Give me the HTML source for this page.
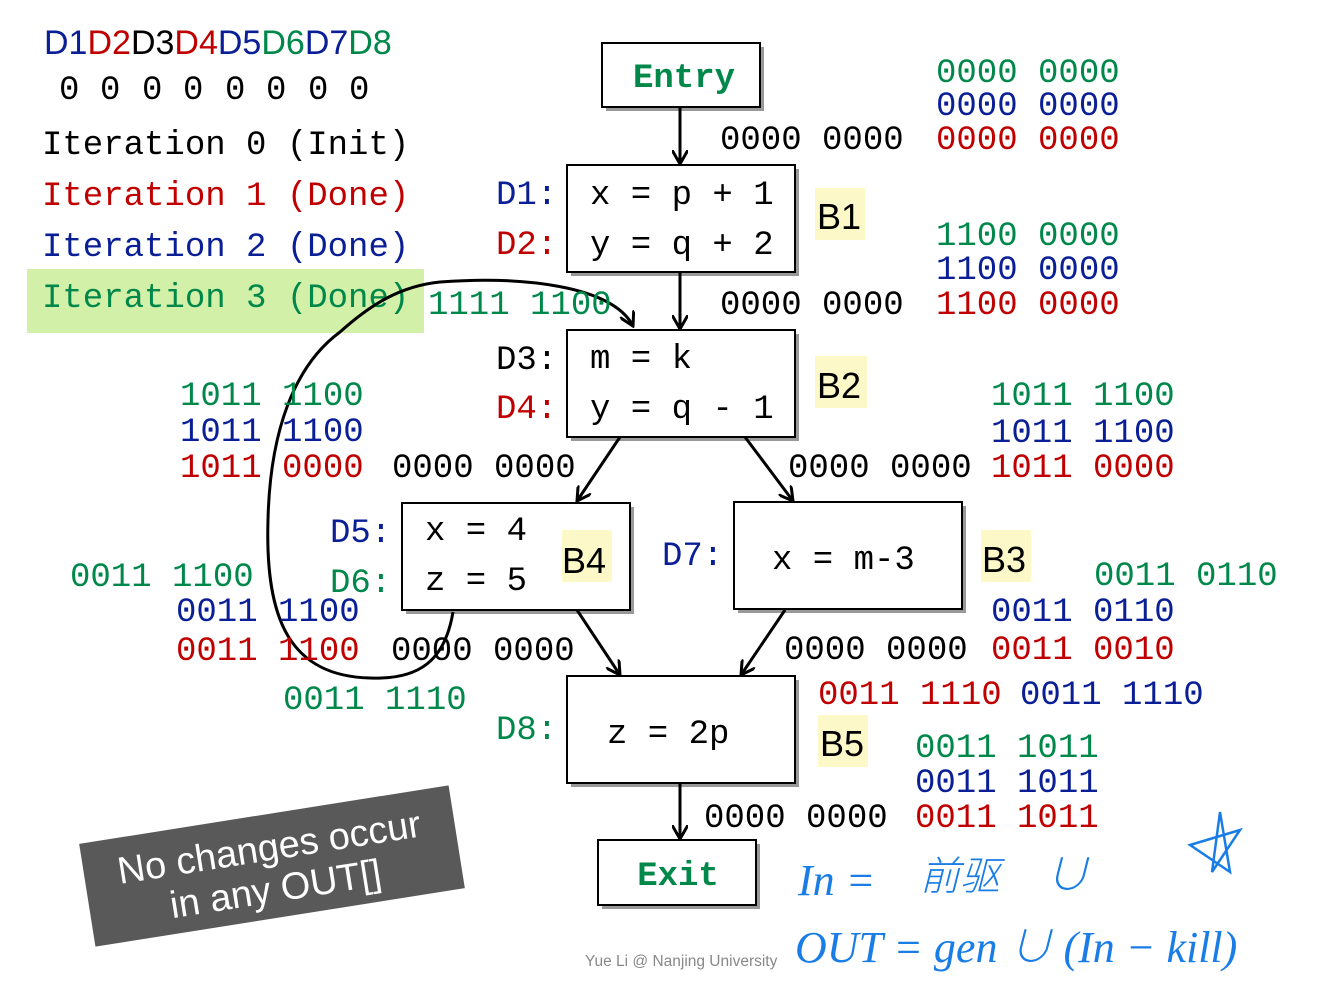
<!DOCTYPE html>
<html><head><meta charset="utf-8"><style>
html,body{margin:0;padding:0;background:#fff;}
svg{display:block;}
.m{font-family:"Liberation Mono",monospace;font-size:34px;}
.s{font-family:"Liberation Sans",sans-serif;}
.g{fill:#00884a}.b{fill:#0a1e96}.r{fill:#c00000}.k{fill:#000}
</style></head><body>
<svg width="1334" height="1000" viewBox="0 0 1334 1000" xmlns="http://www.w3.org/2000/svg">
<defs>
<marker id="a2" markerWidth="16" markerHeight="16" refX="14" refY="8" orient="auto" markerUnits="userSpaceOnUse"><path d="M0,0 L14,8 L0,16" fill="none" stroke="#000" stroke-width="3"/></marker></defs>

<text x="44" y="54" class="s" font-size="34"><tspan class="b">D1</tspan><tspan class="r">D2</tspan><tspan class="k">D3</tspan><tspan class="r">D4</tspan><tspan class="b">D5</tspan><tspan class="g">D6</tspan><tspan class="b">D7</tspan><tspan class="g">D8</tspan></text>
<g class="m k"><text x="59" y="99">0</text><text x="100" y="99">0</text><text x="142" y="99">0</text><text x="183" y="99">0</text><text x="225" y="99">0</text><text x="266" y="99">0</text><text x="308" y="99">0</text><text x="349" y="99">0</text></g>
<rect x="27" y="269" width="397" height="64" fill="#d3f0a8"/>
<text x="42" y="154" class="m k">Iteration 0 (Init)</text>
<text x="42" y="205" class="m r">Iteration 1 (Done)</text>
<text x="42" y="256" class="m b">Iteration 2 (Done)</text>
<text x="42" y="307" class="m g">Iteration 3 (Done)</text>

<g fill="#999"><rect x="606" y="47" width="158" height="64"/><rect x="571" y="169" width="228" height="107"/><rect x="571" y="334" width="228" height="107"/><rect x="406" y="507" width="228" height="107"/><rect x="738" y="506" width="228" height="107"/><rect x="571" y="680" width="228" height="107"/><rect x="602" y="844" width="158" height="65"/></g>
<g fill="#fff" stroke="#000" stroke-width="2"><rect x="602" y="43" width="158" height="64"/><rect x="567" y="165" width="228" height="107"/><rect x="567" y="330" width="228" height="107"/><rect x="402" y="503" width="228" height="107"/><rect x="734" y="502" width="228" height="107"/><rect x="567" y="676" width="228" height="107"/><rect x="598" y="840" width="158" height="65"/></g>
<text x="684" y="87" text-anchor="middle" class="m g" font-weight="bold">Entry</text>
<text x="678" y="885" text-anchor="middle" class="m g" font-weight="bold">Exit</text>

<g class="m k"><text x="590" y="204">x = p + 1</text><text x="590" y="254">y = q + 2</text>
<text x="590" y="368">m = k</text><text x="590" y="418">y = q - 1</text>
<text x="425" y="540">x = 4</text><text x="425" y="590">z = 5</text>
<text x="772" y="569">x = m-3</text><text x="607" y="743">z = 2p</text></g>
<g class="m"><text x="496" y="204" class="b">D1:</text><text x="496" y="254" class="r">D2:</text><text x="496" y="369" class="k">D3:</text><text x="496" y="418" class="r">D4:</text>
<text x="330" y="542" class="b">D5:</text><text x="330" y="592" class="g">D6:</text><text x="662" y="565" class="b">D7:</text><text x="496" y="739" class="g">D8:</text></g>

<g fill="#fdf8c8"><rect x="815" y="188" width="50" height="52"/><rect x="815" y="356" width="52" height="52"/><rect x="562" y="530" width="50" height="52"/><rect x="981" y="530" width="50" height="52"/><rect x="818" y="715" width="50" height="52"/></g>
<g class="s k" font-size="36"><text x="817" y="229">B1</text><text x="817" y="398">B2</text><text x="562" y="573">B4</text><text x="982" y="572">B3</text><text x="820" y="756">B5</text></g>

<g stroke="#000" stroke-width="3" fill="none" marker-end="url(#a2)">
<line x1="680" y1="107" x2="680" y2="164"/><line x1="680" y1="272" x2="680" y2="329"/>
<line x1="620" y1="437" x2="577" y2="501"/><line x1="745" y1="437" x2="793" y2="501"/>
<line x1="577" y1="610" x2="620" y2="675"/><line x1="785" y1="610" x2="741" y2="675"/>
<line x1="680" y1="783" x2="680" y2="839"/>
<path d="M453,612 C445,660 420,680 370,678 C290,676 265,620 268,520 C270,430 295,365 340,332 C370,305 400,286 440,282 C520,276 612,285 633,326"/>
</g>

<g class="m">
<text x="936" y="82" class="g">0000 0000</text><text x="936" y="115" class="b">0000 0000</text><text x="936" y="149" class="r">0000 0000</text><text x="720" y="149" class="k">0000 0000</text>
<text x="936" y="245" class="g">1100 0000</text><text x="936" y="279" class="b">1100 0000</text><text x="936" y="314" class="r">1100 0000</text><text x="720" y="314" class="k">0000 0000</text>
<text x="428" y="314" class="g">1111 1100</text>
<text x="180" y="405" class="g">1011 1100</text><text x="180" y="441" class="b">1011 1100</text><text x="180" y="477" class="r">1011 0000</text><text x="392" y="477" class="k">0000 0000</text>
<text x="991" y="405" class="g">1011 1100</text><text x="991" y="442" class="b">1011 1100</text><text x="991" y="477" class="r">1011 0000</text><text x="788" y="477" class="k">0000 0000</text>
<text x="70" y="586" class="g">0011 1100</text><text x="176" y="621" class="b">0011 1100</text><text x="176" y="660" class="r">0011 1100</text><text x="391" y="660" class="k">0000 0000</text>
<text x="1094" y="585" class="g">0011 0110</text><text x="991" y="621" class="b">0011 0110</text><text x="991" y="659" class="r">0011 0010</text><text x="784" y="659" class="k">0000 0000</text>
<text x="283" y="709" class="g">0011 1110</text>
<text x="818" y="704" class="r">0011 1110</text><text x="1020" y="704" class="b">0011 1110</text>
<text x="915" y="757" class="g">0011 1011</text><text x="915" y="792" class="b">0011 1011</text><text x="915" y="827" class="r">0011 1011</text><text x="704" y="827" class="k">0000 0000</text>
</g>

<g transform="translate(272,866) rotate(-9)">
<rect x="-187" y="-52" width="374" height="104" fill="#595959"/>
<text x="0" y="-6" text-anchor="middle" class="s" font-size="38" fill="#fff">No changes occur</text>
<text x="0" y="36" text-anchor="middle" class="s" font-size="38" fill="#fff">in any OUT[]</text>
</g>

<text x="585" y="966" class="s" font-size="15.5" fill="#888">Yue Li @ Nanjing University</text>

<g fill="#1a7de6" font-family="Liberation Serif, 'Noto Sans CJK SC', serif" font-style="italic" font-size="44" font-weight="300">
<text x="798" y="895">In =</text>
<text x="920" y="890" font-size="40">前驱</text>
<text x="1045" y="890">∪</text>
<text x="795" y="962">OUT = gen ∪ (In − kill)</text>
</g>
<path d="M1190,845 L1240,830 L1212,872 L1220,812 L1230,872 Z" fill="none" stroke="#1a7de6" stroke-width="2.5"/>
</svg>
</body></html>
